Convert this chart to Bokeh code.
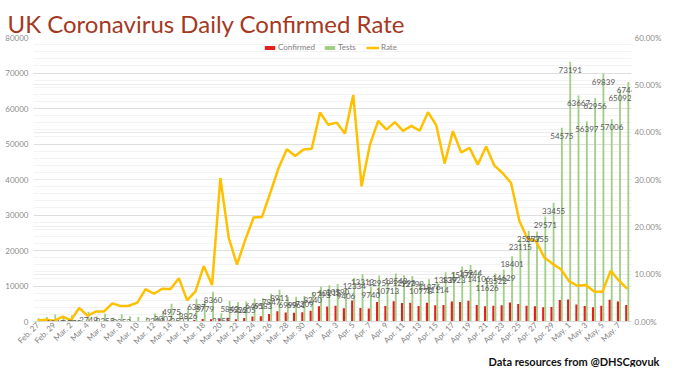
from math import pi
from bokeh.plotting import figure
from bokeh.models import (Range1d, LinearAxis, FixedTicker, NumeralTickFormatter,
                          BasicTickFormatter, Grid, Legend, LegendItem, Title,
                          ColumnDataSource, CustomJSTickFormatter)
from bokeh.transform import dodge
from bokeh.embed import file_html
from bokeh.resources import INLINE
from bokeh.core.properties import value

# ---- data (Feb 27 .. May 8, 2020) ----
date_labels = (["Feb. 27", "Feb. 28", "Feb. 29"]
               + ["Mar. %d" % d for d in range(1, 32)]
               + ["Apr. %d" % d for d in range(1, 31)]
               + ["May. %d" % d for d in range(1, 9)])

confirmed = [2, 5, 3,
             13, 4, 11, 34, 30, 48, 43, 67, 48, 52, 83, 134, 208, 342, 232, 171, 407, 676,
             643, 714, 1035, 665, 967, 1427, 1452, 2129, 2885, 2546, 2433, 2619, 3009,
             4324, 4244, 4450, 3735, 5903, 3802, 3634, 5491, 4344, 5706, 5234, 5288, 4342,
             5252, 4603, 4617, 5599, 5525, 5850, 4676, 4301, 4451, 4583, 5386, 4913, 4463,
             4309, 3996, 4076, 6032,
             6201, 4806, 4339, 3985, 4406, 6111, 5614, 4649]

tests = [892, 1293, 1947,
         1267, 1775, 386, 2748, 1424, 2255, 1122, 2053, 1447, 1301, 1215, 2288, 3007, 4975,
         2533, 3826, 6387, 5779, 8360, 2355, 5842, 5522, 5605, 6491, 6583, 7847, 8911, 6999,
         6961, 7209, 8240,
         9793, 10215, 10590, 9406, 12334, 13313, 9740, 12959, 10713, 13543, 12993, 12799,
         10778, 11876, 11114, 13839, 13923, 15475, 15944, 14106, 11626, 13522, 14629, 18401,
         23115, 25577, 25355, 29571, 33455, 54575,
         73191, 63667, 56397, 62956, 69839, 57006, 65092, 67443]

rate_pct = [0.22, 0.39, 0.15,
            1.03, 0.23, 2.85, 1.24, 2.11, 2.13, 3.83, 3.26, 3.32, 4.00, 6.83, 5.86, 6.92, 6.87,
            9.16, 4.47, 6.37, 11.70, 7.69, 30.32, 17.72, 12.04, 17.25, 21.98, 22.06, 27.13,
            32.38, 36.38, 34.95, 36.33, 36.52,
            44.15, 41.55, 42.02, 39.71, 47.86, 28.56, 37.31, 42.37, 40.55, 42.13, 40.28, 41.32,
            40.29, 44.22, 41.42, 33.36, 40.21, 35.70, 36.69, 33.15, 36.99, 32.92, 31.33, 29.27,
            21.25, 17.45, 16.99, 13.51, 12.18, 11.05,
            8.47, 7.55, 7.69, 6.33, 6.31, 10.72, 8.62, 6.89]

left_ticks = [0, 10000, 20000, 30000, 40000, 50000, 60000, 70000, 80000]
left_minor = list(range(0, 80001, 2000))
right_ticks = [0, 0.1, 0.2, 0.3, 0.4, 0.5, 0.6]

FONT = "Lato"

src = ColumnDataSource(dict(
    idx=list(range(len(date_labels))),
    confirmed=confirmed,
    tests=tests,
    rate=[r / 100.0 for r in rate_pct],
    tests_text=[str(t) for t in tests],
))

p = figure(width=664, height=367, output_backend="svg", toolbar_location=None,
           x_range=Range1d(-0.5, len(date_labels) - 0.5), y_range=Range1d(0, 80000),
           min_border_left=33, min_border_right=29, min_border_top=37, min_border_bottom=39)
p.extra_y_ranges = {"rate": Range1d(0, 0.6)}
p.outline_line_color = None
p.background_fill_color = "white"
p.border_fill_color = "white"

# title
p.title.text = "UK Coronavirus Daily Confirmed Rate"
p.title.text_font = FONT
p.title.text_font_size = "24px"
p.title.text_font_style = "normal"
p.title.text_color = "#a5391e"
p.title.align = "left"
p.title.offset = -26
p.title.standoff = 0

# left axis
ya = p.yaxis[0]
ya.ticker = FixedTicker(ticks=left_ticks)
ya.formatter = BasicTickFormatter(use_scientific=False)
ya.axis_line_color = None
ya.major_tick_line_color = None
ya.minor_tick_line_color = None
ya.major_tick_out = 0
ya.major_tick_in = 0
ya.minor_tick_out = 0
ya.major_label_text_font = FONT
ya.major_label_text_font_size = "8px"
ya.major_label_text_color = "#8c8c8c"
ya.major_label_standoff = 5

# right axis
ra = LinearAxis(y_range_name="rate", ticker=FixedTicker(ticks=right_ticks),
                formatter=NumeralTickFormatter(format="0.00%"))
ra.axis_line_color = None
ra.major_tick_line_color = None
ra.minor_tick_line_color = None
ra.major_tick_out = 0
ra.major_tick_in = 0
ra.minor_tick_out = 0
ra.major_label_text_font = FONT
ra.major_label_text_font_size = "8px"
ra.major_label_text_color = "#8c8c8c"
ra.major_label_standoff = 3
p.add_layout(ra, "right")

# bottom axis
xa = p.xaxis[0]
xa.ticker = FixedTicker(ticks=list(range(0, len(date_labels), 2)))
xa.formatter = CustomJSTickFormatter(args=dict(labels=date_labels),
                                     code="return labels[Math.round(tick)] || '';")
xa.major_label_orientation = pi / 4
xa.major_label_text_font = FONT
xa.major_label_text_font_size = "8px"
xa.major_label_text_color = "#7f7f7f"
xa.major_label_standoff = 2
xa.major_tick_out = 0
xa.major_tick_in = 0
xa.minor_tick_out = 0
xa.axis_line_color = "#d9d9d9"
xa.major_tick_line_color = None
xa.minor_tick_line_color = None

# grids
p.xgrid.visible = False
p.ygrid[0].ticker = FixedTicker(ticks=left_ticks, minor_ticks=left_minor)
p.ygrid[0].grid_line_color = "#dedede"
p.ygrid[0].minor_grid_line_color = "#f3f3f3"
p.add_layout(Grid(dimension=1, ticker=FixedTicker(ticks=right_ticks), y_range_name="rate",
                  grid_line_color="#ebebeb"))

# bars, line, labels
r_conf = p.vbar(x=dodge("idx", -0.13, range=p.x_range), top="confirmed", width=0.26,
                source=src, fill_color="#e3211c", line_color=None)
r_tests = p.vbar(x=dodge("idx", 0.12, range=p.x_range), top="tests", width=0.22,
                 source=src, fill_color="#a2cf86", line_color=None)
r_rate = p.line(x="idx", y="rate", y_range_name="rate", source=src,
                line_color="#ffc000", line_width=2.5)
p.text(x=dodge("idx", 0.12, range=p.x_range), y="tests", text="tests_text", source=src,
       text_align="center", text_baseline="top", y_offset=5,
       text_font=value(FONT), text_font_size="8px", text_color="#595959")

legend = Legend(items=[LegendItem(label="Confirmed", renderers=[r_conf]),
                       LegendItem(label="Tests", renderers=[r_tests]),
                       LegendItem(label="Rate", renderers=[r_rate])],
                location="top_center", orientation="horizontal")
legend.label_text_font = FONT
legend.label_text_font_size = "8px"
legend.label_text_color = "#7f7f7f"
legend.glyph_width = 13
legend.glyph_height = 5
legend.label_standoff = 2
legend.spacing = 8
legend.padding = 0
legend.margin = 5
legend.background_fill_alpha = 0
legend.border_line_alpha = 0
p.add_layout(legend)

note = Title(text="Data resources from @DHSCgovuk", align="right",
             text_font=FONT, text_font_size="11px", text_font_style="bold",
             text_color="#111111", offset=-28, standoff=0)
p.add_layout(note, "below")

open("out.html", "w").write(file_html(p, INLINE))
